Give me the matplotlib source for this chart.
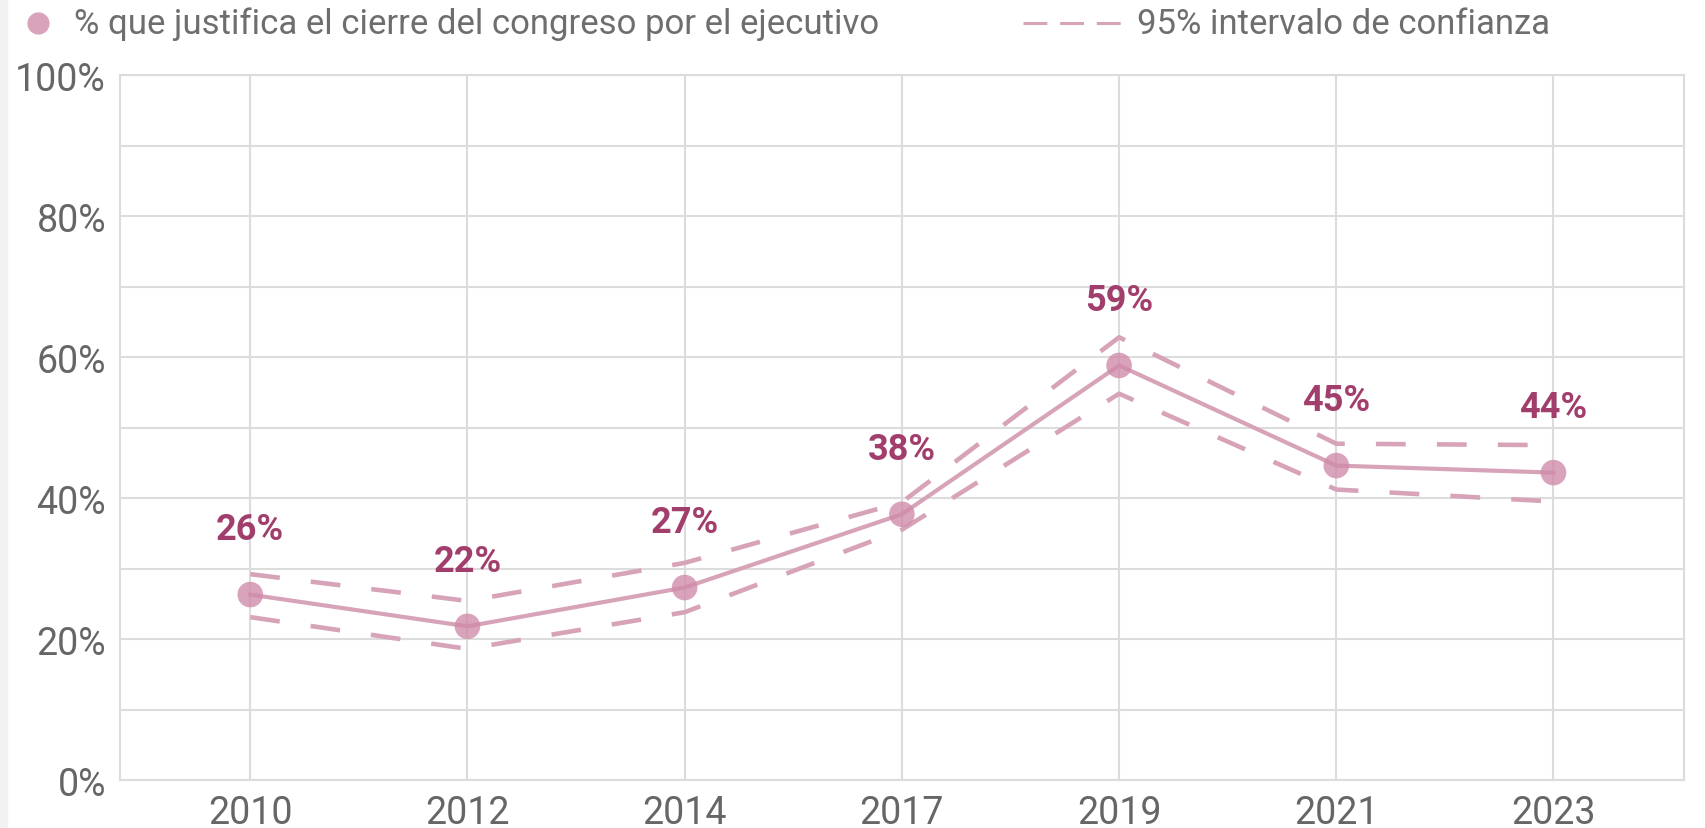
import matplotlib
matplotlib.use("Agg")
import matplotlib.pyplot as plt
from matplotlib.lines import Line2D
from matplotlib.patches import Rectangle
from matplotlib.ticker import MultipleLocator, FuncFormatter

years = ["2010", "2012", "2014", "2017", "2019", "2021", "2023"]
values = [26.3, 21.8, 27.3, 37.7, 58.8, 44.6, 43.6]
labels = ["26%", "22%", "27%", "38%", "59%", "45%", "44%"]
ci_upper = [29.2, 25.4, 30.8, 39.4, 62.8, 47.7, 47.5]
ci_lower = [23.1, 18.6, 23.8, 35.5, 54.8, 41.2, 39.5]

plt.rcParams['font.family'] = ['Roboto', 'DejaVu Sans']

line_col = "#d7a3b8"
dot_col = "#cf8aa8"
lab_col = "#a23e6c"
grid_col = "#dcdcdc"
tick_col = "#666666"

fig = plt.figure(figsize=(17.06, 8.29), dpi=100)
fig.patches.append(Rectangle((0, 0), 7 / 1706, 1, transform=fig.transFigure,
                             color="#f1f3f3", zorder=0))
ax = fig.add_axes([0.0703, 0.0579, 0.9167, 0.8504])

dash = (0, (6.5, 6.8))
x = list(range(len(years)))
ax.plot(x, ci_upper, color=line_col, lw=3.3, ls=dash, zorder=3)
ax.plot(x, ci_lower, color=line_col, lw=3.3, ls=dash, zorder=3)
ax.plot(x, values, color=line_col, lw=3.0, zorder=4)
ax.scatter(x, values, s=340, color=dot_col, alpha=0.78, zorder=5, edgecolors='none')

for xi, v, t in zip(x, values, labels):
    ax.annotate(t, (xi, v), xytext=(0, 47), textcoords='offset points',
                ha='center', va='center', fontsize=26, fontweight='bold',
                color=lab_col, zorder=6)

ax.set_xlim(-0.6, 6.6)
ax.set_ylim(0, 100)
ax.set_xticks(x)
ax.set_xticklabels(years)
ax.yaxis.set_major_locator(MultipleLocator(20))
ax.yaxis.set_minor_locator(MultipleLocator(10))
ax.yaxis.set_major_formatter(FuncFormatter(lambda v, p: f"{int(v)}%"))
ax.grid(True, which='both', axis='y', color=grid_col, lw=1.5)
ax.grid(True, which='major', axis='x', color=grid_col, lw=1.5)
ax.set_axisbelow(True)
for s in ax.spines.values():
    s.set_color(grid_col)
    s.set_linewidth(1.5)
ax.tick_params(axis='both', which='both', length=0, labelsize=27, colors=tick_col, pad=10)

# legend (drawn manually in figure coordinates)
ly = 1 - 24 / 829
fig.add_artist(Line2D([38 / 1706], [ly], marker='o', ls='none', markersize=16,
                      color=dot_col, alpha=0.78, markeredgewidth=0,
                      transform=fig.transFigure))
fig.text(74 / 1706, ly, "% que justifica el cierre del congreso por el ejecutivo",
         fontsize=25, color="#6e6e6e", va='center', ha='left')
fig.add_artist(Line2D([1023 / 1706, 1121 / 1706], [ly, ly], lw=2.2, color=line_col,
                      ls=(0, (7.8, 4.2)), transform=fig.transFigure))
fig.text(1137 / 1706, ly, "95% intervalo de confianza",
         fontsize=25, color="#6e6e6e", va='center', ha='left')

fig.savefig("out.png", dpi=100, facecolor='white')
